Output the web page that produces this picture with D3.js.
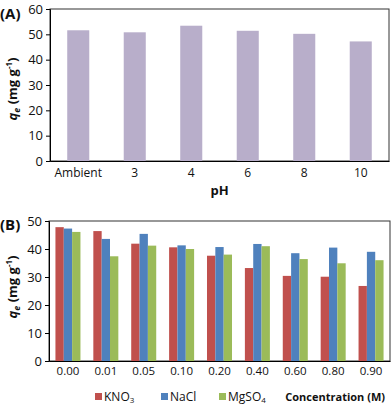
<!DOCTYPE html>
<html>
<head>
<meta charset="utf-8">
<script src="https://cdn.jsdelivr.net/npm/d3@7"></script>
<style>
  body { margin: 0; background: #fff; }
  text { font-family: "Open Sans", sans-serif; fill: #111; }
</style>
</head>
<body>
<div id="container"></div>
<script>
// panel A data
var phLabels = ["Ambient", "3", "4", "6", "8", "10"];
var phValues = [51.6, 50.8, 53.4, 51.4, 50.2, 47.2];
var yTicksA = [0, 10, 20, 30, 40, 50, 60];

// panel B data
var concLabels = ["0.00", "0.01", "0.05", "0.10", "0.20", "0.40", "0.60", "0.80", "0.90"];
var saltNames = ["KNO3", "NaCl", "MgSO4"];
var kno3Values = [47.8, 46.4, 41.9, 40.6, 37.6, 33.2, 30.4, 30.1, 26.8];
var naclValues = [47.3, 43.6, 45.4, 41.3, 40.7, 41.8, 38.5, 40.5, 39.0];
var mgso4Values = [46.1, 37.4, 41.2, 40.0, 38.0, 41.0, 36.4, 34.9, 36.0];
var yTicksB = [0, 10, 20, 30, 40, 50];

var saltColors = {KNO3: "#c0504d", NaCl: "#4f81bd", MgSO4: "#9bbb59"};

var svg = d3.select("#container")
  .append("svg")
    .attr("width", 392)
    .attr("height", 405)
    .attr("id", "chart");

// y-axis title with italic q_e and superscript -1
function yTitle(g, x, y) {
  var t = g.append("text")
    .attr("transform", "translate(" + x + "," + y + ") rotate(-90)")
    .attr("text-anchor", "middle")
    .style("font-size", "13px")
    .style("font-weight", "bold");
  t.append("tspan").style("font-style", "italic").text("q");
  t.append("tspan").style("font-style", "italic").style("font-size", "9px").attr("dy", 3).text("e");
  t.append("tspan").attr("dy", -3).text(" (mg g");
  t.append("tspan").style("font-size", "8px").attr("dy", -5).text("-1");
  t.append("tspan").attr("dy", 5).text(")");
}

function chemName(sel, name) {
  var m = name.match(/^([A-Za-z]+?)(\d*)$/);
  sel.append("tspan").text(m[1]);
  if (m[2]) sel.append("tspan").style("font-size", "8px").attr("dy", 2).text(m[2]);
}

// ---------- panel A ----------
var mA = {left: 50, right: 389, top: 9, bottom: 161};
var xA = d3.scaleBand().domain(phLabels).range([mA.left, mA.right])
  .paddingInner(0.61).paddingOuter(0.305);
var yA = d3.scaleLinear().domain([0, 60]).range([mA.bottom, mA.top]);

var gA = svg.append("g");
gA.append("rect")
  .attr("x", mA.left).attr("y", mA.top)
  .attr("width", mA.right - mA.left).attr("height", mA.bottom - mA.top)
  .attr("fill", "none").attr("stroke", "#333").attr("stroke-width", 1);

gA.selectAll(".barA")
  .data(phValues)
  .enter().append("rect")
    .attr("class", "barA")
    .attr("x", function(d, i) { return xA(phLabels[i]); })
    .attr("y", function(d) { return yA(d); })
    .attr("width", xA.bandwidth())
    .attr("height", function(d) { return yA(0) - yA(d); })
    .attr("fill", "#b8aeca");

var axA = gA.append("g")
  .attr("transform", "translate(" + mA.left + ",0)")
  .call(d3.axisLeft(yA).tickValues(yTicksA).tickSize(4).tickPadding(3));
axA.selectAll("text").style("font-size", "13px").style("font-family", "Open Sans");

var axAx = gA.append("g")
  .attr("transform", "translate(0," + mA.bottom + ")")
  .call(d3.axisBottom(xA).tickSize(0).tickPadding(7));
axAx.selectAll("text").style("font-size", "12px").style("font-family", "Open Sans");

gA.selectAll(".domain").attr("stroke", "#000");

gA.append("text").attr("x", (mA.left + mA.right) / 2).attr("y", 195)
  .attr("text-anchor", "middle").style("font-size", "13px").style("font-weight", "bold").text("pH");
gA.append("text").attr("x", 0).attr("y", 19)
  .style("font-size", "15px").style("font-weight", "bold").text("(A)");
yTitle(gA, 17, 89);

// ---------- panel B ----------
var mB = {left: 49, right: 390, top: 221, bottom: 361};
var x0 = d3.scaleBand().domain(concLabels).range([mB.left, mB.right])
  .paddingInner(0.34).paddingOuter(0.17);
var x1 = d3.scaleBand().domain(saltNames).range([0, x0.bandwidth()]);
var yB = d3.scaleLinear().domain([0, 50]).range([mB.bottom, mB.top]);

var seriesB = {KNO3: kno3Values, NaCl: naclValues, MgSO4: mgso4Values};

var gB = svg.append("g");
gB.append("rect")
  .attr("x", mB.left).attr("y", mB.top)
  .attr("width", mB.right - mB.left).attr("height", mB.bottom - mB.top)
  .attr("fill", "none").attr("stroke", "#333").attr("stroke-width", 1);

gB.selectAll(".grp")
  .data(concLabels)
  .enter().append("g")
    .attr("class", "grp")
    .attr("transform", function(d) { return "translate(" + x0(d) + ",0)"; })
  .selectAll("rect")
  .data(function(d, i) { return saltNames.map(function(s) { return {salt: s, value: seriesB[s][i]}; }); })
  .enter().append("rect")
    .attr("x", function(d) { return x1(d.salt); })
    .attr("y", function(d) { return yB(d.value); })
    .attr("width", x1.bandwidth())
    .attr("height", function(d) { return yB(0) - yB(d.value); })
    .attr("fill", function(d) { return saltColors[d.salt]; });

var axB = gB.append("g")
  .attr("transform", "translate(" + mB.left + ",0)")
  .call(d3.axisLeft(yB).tickValues(yTicksB).tickSize(4).tickPadding(3));
axB.selectAll("text").style("font-size", "13px").style("font-family", "Open Sans");

var axBx = gB.append("g")
  .attr("transform", "translate(0," + mB.bottom + ")")
  .call(d3.axisBottom(x0).tickSize(0).tickPadding(6));
axBx.selectAll("text").style("font-size", "11.5px").style("font-family", "Open Sans");

gB.selectAll(".domain").attr("stroke", "#000");

gB.append("text").attr("x", 0).attr("y", 230)
  .style("font-size", "15px").style("font-weight", "bold").text("(B)");
yTitle(gB, 17, 287);

// legend
var legX = [95, 161, 219];
var leg = gB.selectAll(".leg")
  .data(saltNames)
  .enter().append("g")
    .attr("class", "leg")
    .attr("transform", function(d, i) { return "translate(" + legX[i] + ",393)"; });
leg.append("rect").attr("width", 7).attr("height", 7).attr("fill", function(d) { return saltColors[d]; });
leg.append("text").attr("x", 9).attr("y", 8).style("font-size", "12px").style("fill", "#111")
  .each(function(d) { chemName(d3.select(this), d); });

gB.append("text").attr("x", 385).attr("y", 401)
  .attr("text-anchor", "end").style("font-size", "11px").style("font-weight", "bold")
  .text("Concentration (M)");
</script>
</body>
</html>
